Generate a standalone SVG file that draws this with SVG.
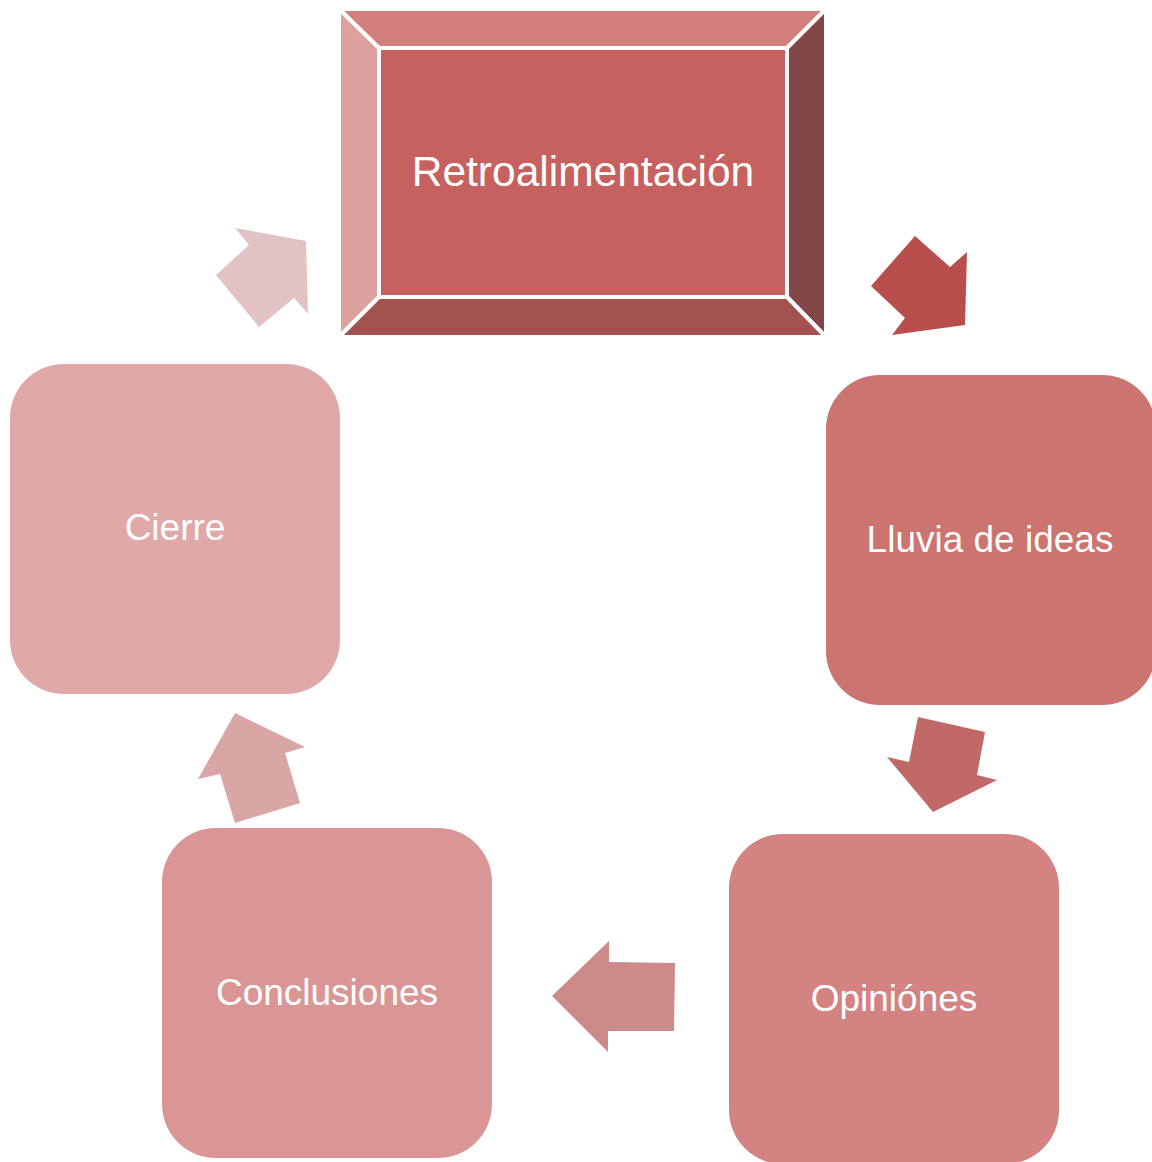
<svg xmlns="http://www.w3.org/2000/svg" width="1152" height="1162" viewBox="0 0 1152 1162">
<style>
.lbl{font-family:"Liberation Sans",Arial,sans-serif;fill:#ffffff;text-anchor:middle;font-size:37px}
.face{stroke:#ffffff;stroke-width:4;stroke-linejoin:miter}
</style>
<rect width="1152" height="1162" fill="#ffffff"/>
<g id="connectors">
<polygon points="871,286 915,236 950,267 967,252 965,325 892,335 905,318" fill="#B84F4C"/>
<polygon points="918,717 985,732 977,775 997,780 933,812 887,757 909,762" fill="#C06966"/>
<polygon points="675,963 674,1031 608,1031 608,1052 552,996 609,941 609,962" fill="#CC8A88"/>
<polygon points="235,713 305,747 285,753 300,803 235,823 220,774 198,779" fill="#D9A6A6"/>
<polygon points="235,228 306,241 308,314 294,298 259,327 216,275 249,245" fill="#E3C2C3"/>
</g>
<g id="node-retro">
<polygon class="face" points="339,9 826,9 787,48 379,48" fill="#D3807D"/>
<polygon class="face" points="339,9 379,48 379,297 339,337" fill="#DCA09F"/>
<polygon class="face" points="826,9 826,337 787,297 787,48" fill="#834646"/>
<polygon class="face" points="339,337 379,297 787,297 826,337" fill="#A4524F"/>
<rect class="face" x="379" y="48" width="408" height="249" fill="#C6615F"/>
<text class="lbl" x="583" y="186" style="font-size:42.5px">Retroalimentación</text>
</g>
<g id="node-lluvia">
<rect x="826" y="375" width="330" height="330" rx="54" fill="#CB7470"/>
<text class="lbl" x="990" y="552">Lluvia de ideas</text>
</g>
<g id="node-opiniones">
<rect x="729" y="834" width="330" height="330" rx="54" fill="#D38382"/>
<text class="lbl" x="894" y="1011">Opiniónes</text>
</g>
<g id="node-conclusiones">
<rect x="162" y="828" width="330" height="330" rx="54" fill="#DA9695"/>
<text class="lbl" x="327" y="1005">Conclusiones</text>
</g>
<g id="node-cierre">
<rect x="10" y="364" width="330" height="330" rx="54" fill="#E0A8A7"/>
<text class="lbl" x="175" y="540">Cierre</text>
</g>
</svg>
